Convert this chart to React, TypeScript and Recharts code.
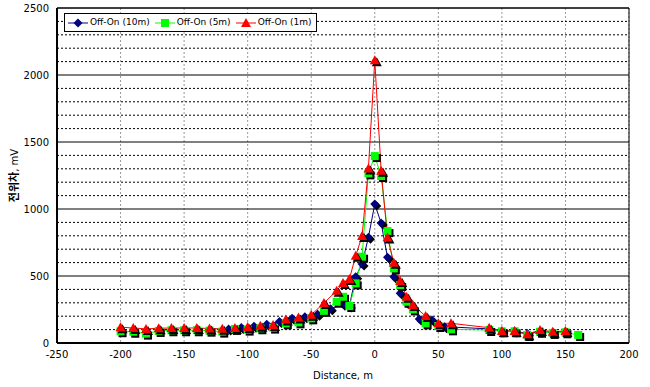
import {
  CartesianGrid,
  Line,
  LineChart,
  ReferenceArea,
  ReferenceLine,
  XAxis,
  YAxis,
} from "recharts"

// Off-On (10m)
const dist10 = [-115, -105, -95, -85, -75, -65, -55, -45, -35, -25, -20, -15, -10, -5, 0, 5, 10, 15, 20, 25, 30, 35, 45, 55, 90, 100, 110, 120, 130, 140, 150]
const volt10 = [105, 115, 125, 140, 160, 185, 195, 215, 255, 290, 276, 495, 589, 789, 1037, 895, 640, 495, 371, 301, 259, 180, 172, 122, 105, 90, 90, 70, 85, 80, 85]

// Off-On (5m)
const dist5 = [-200, -190, -180, -170, -160, -150, -140, -130, -120, -110, -100, -90, -80, -70, -60, -50, -40, -30, -25, -20, -15, -10, -5, 0, 5, 10, 15, 20, 25, 30, 40, 50, 60, 90, 100, 110, 120, 130, 140, 150, 160]
const volt5 = [88, 84, 70, 90, 95, 95, 95, 92, 85, 105, 100, 110, 115, 147, 154, 184, 240, 308, 345, 276, 445, 644, 1266, 1395, 1246, 835, 557, 433, 308, 251, 147, 127, 102, 97, 87, 87, 60, 84, 75, 80, 60]

// Off-On (1m)
const dist1 = [-200, -190, -180, -170, -160, -150, -140, -130, -120, -110, -100, -90, -80, -70, -60, -50, -40, -30, -25, -20, -15, -10, -5, 0, 5, 10, 15, 20, 25, 30, 40, 50, 60, 90, 100, 110, 120, 130, 140, 150]
const volt1 = [118, 112, 105, 110, 112, 112, 112, 108, 106, 112, 120, 128, 135, 175, 190, 210, 298, 390, 447, 477, 651, 798, 1303, 2110, 1286, 788, 599, 462, 345, 283, 201, 147, 147, 114, 90, 90, 65, 97, 84, 90]

const xTicks = [-250, -200, -150, -100, -50, 0, 50, 100, 150, 200]
const yTicks = [0, 500, 1000, 1500, 2000, 2500]
const yMinor = [100, 200, 300, 400, 600, 700, 800, 900, 1100, 1200, 1300, 1400, 1600, 1700, 1800, 1900, 2100, 2200, 2300, 2400]

const toPoints = (xs: number[], ys: number[]) => xs.map((d, i) => ({ d, v: ys[i] }))

const series = [
  { name: "Off-On (10m)", color: "#000080", shape: "diamond", data: toPoints(dist10, volt10) },
  { name: "Off-On (5m)", color: "#00ff00", shape: "square", data: toPoints(dist5, volt5) },
  { name: "Off-On (1m)", color: "#ff0000", shape: "triangle", data: toPoints(dist1, volt1) },
]

function markerPath(shape: string, x: number, y: number) {
  if (shape === "diamond") return `M${x},${y - 4.5}L${x + 4.5},${y}L${x},${y + 4.5}L${x - 4.5},${y}Z`
  if (shape === "square") return `M${x - 4},${y - 4}h8v8h-8Z`
  return `M${x},${y - 5}L${x + 5},${y + 4}L${x - 5},${y + 4}Z`
}

function Marker({ cx, cy, shape, color }: { cx?: number; cy?: number; shape: string; color: string }) {
  if (cx == null || cy == null) return null
  return (
    <g>
      <path d={markerPath(shape, cx + 2, cy + 2)} fill="#000" />
      <path d={markerPath(shape, cx, cy)} fill={color} />
    </g>
  )
}

function ChartLegend() {
  return (
    <div
      style={{
        position: "absolute",
        left: 64,
        top: 13,
        display: "flex",
        gap: 5,
        alignItems: "center",
        border: "1px solid #000",
        background: "#fff",
        padding: "2px 4px 2px 3px",
        fontFamily: "DejaVu Sans",
        fontSize: 9,
        lineHeight: "13px",
        color: "#000",
      }}
    >
      {series.map((s) => (
        <span key={s.name} style={{ display: "flex", alignItems: "center", gap: 2 }}>
          <svg width={20} height={12}>
            <line x1={0} y1={6} x2={20} y2={6} stroke={s.color} strokeWidth={1} />
            <path d={markerPath(s.shape, 10, 6)} fill={s.color} />
          </svg>
          {s.name}
        </span>
      ))}
    </div>
  )
}

function YLabel({ viewBox }: { viewBox?: { x: number; y: number; width: number; height: number } }) {
  if (!viewBox) return null
  const cx = 18
  const cy = viewBox.y + viewBox.height / 2
  return (
    <text
      transform={`translate(${cx},${cy}) rotate(-90)`}
      textAnchor="middle"
      fontFamily="Noto Sans CJK KR"
      fontSize={11}
      fill="#000"
    >
      <tspan fontWeight="bold">전위차</tspan>
      <tspan fontSize={10} fontFamily="DejaVu Sans">, mV</tspan>
    </text>
  )
}

const tickStyle = { fill: "#000", fontSize: 10, fontFamily: "DejaVu Sans" }

export default function App() {
  return (
    <div style={{ position: "absolute", left: 0, top: 0, width: 650, height: 387, background: "#fff" }}>
      <LineChart width={650} height={387} margin={{ top: 8, right: 21, bottom: 0, left: 0 }}>
        <CartesianGrid horizontal={false} stroke="#999" strokeDasharray="2 2" />
        {yMinor.map((v) => (
          <ReferenceLine key={v} y={v} stroke="#000" strokeDasharray="2 2" strokeWidth={1} />
        ))}
        <CartesianGrid vertical={false} stroke="#000" />
        <ReferenceArea x1={-250} x2={200} y1={0} y2={2500} fill="none" stroke="#000" strokeWidth={1} />
        <XAxis
          type="number"
          dataKey="d"
          domain={[-250, 200]}
          ticks={xTicks}
          tick={tickStyle}
          tickLine={false}
          axisLine={{ stroke: "#000", strokeWidth: 2 }}
          height={44}
          allowDuplicatedCategory={false}
          label={{ value: "Distance, m", position: "insideBottom", offset: 8, style: tickStyle }}
        />
        <YAxis
          type="number"
          dataKey="v"
          domain={[0, 2500]}
          ticks={yTicks}
          tick={tickStyle}
          tickLine={false}
          axisLine={{ stroke: "#000", strokeWidth: 2 }}
          width={57}
          label={<YLabel />}
        />
        {series.map((s) => (
          <Line
            key={s.name}
            data={s.data}
            dataKey="v"
            name={s.name}
            type="linear"
            stroke={s.color}
            strokeWidth={1}
            dot={(p: any) => <Marker key={p.index} cx={p.cx} cy={p.cy} shape={s.shape} color={s.color} />}
            activeDot={false}
            isAnimationActive={false}
          />
        ))}
      </LineChart>
      <ChartLegend />
    </div>
  )
}
